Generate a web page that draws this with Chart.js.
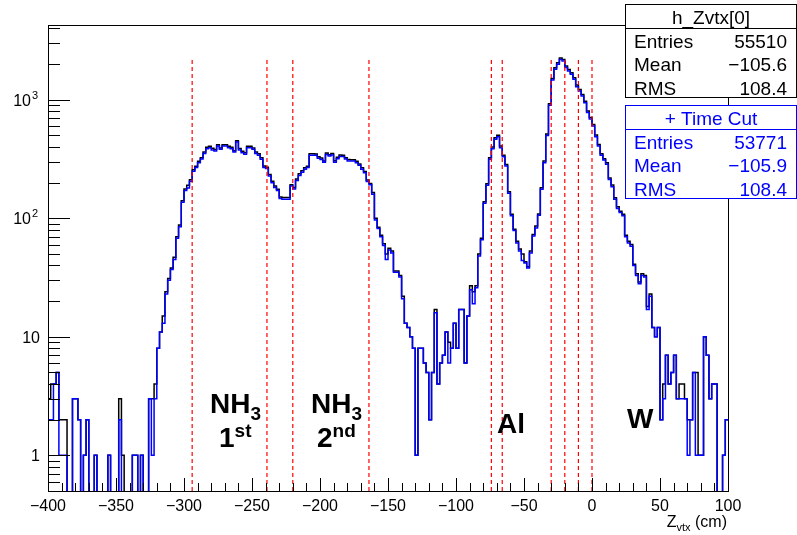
<!DOCTYPE html>
<html>
<head>
<meta charset="utf-8">
<title>h_Zvtx</title>
<script src="https://cdn.jsdelivr.net/npm/chart.js@4.4.1/dist/chart.umd.min.js"></script>
<style>
  html, body { margin: 0; padding: 0; background: #fff; }
  #wrap { width: 797px; height: 535px; }
</style>
</head>
<body>
<div id="wrap"><canvas id="zvtxChart" width="797" height="535"></canvas></div>
<script>
// Histogram binning (cm)
const zMin = -400;
const zMax = 100;
const binWidth = 2;

// Y range of the log axis
const yMin = 0.5;
const yMax = 4280;

// h_Zvtx[0] - all events (black), 250 bins of 2 cm from -400
const allCounts = [
  3, 4, 4, 5, 2, 2, 2, 0, 0, 3,
  3, 2, 0, 1, 2, 0, 0, 1, 0, 0,
  0, 0, 1, 0, 0, 0, 3, 1, 0, 0,
  0, 1, 1, 0, 1, 0, 0, 3, 3, 4,
  8, 11, 15, 24, 31, 38, 47, 70, 88, 141,
  177, 190, 212, 257, 275, 303, 325, 362, 398, 406,
  390, 380, 418, 392, 418, 418, 405, 398, 372, 452,
  388, 368, 357, 406, 406, 392, 363, 350, 324, 276,
  270, 234, 206, 187, 176, 151, 150, 150, 150, 192,
  182, 215, 238, 252, 267, 275, 350, 350, 349, 331,
  323, 305, 356, 344, 352, 306, 327, 342, 341, 325,
  313, 312, 312, 303, 288, 267, 249, 211, 197, 165,
  100, 84, 72, 61, 50, 56, 53, 36, 36, 33,
  22, 13, 12, 10, 8, 1, 8, 8, 6, 5,
  2, 5, 17, 4, 6, 7, 11, 9, 8, 13,
  8, 17, 17, 6, 15, 27, 24, 27, 50, 68,
  138, 196, 325, 399, 478, 503, 407, 341, 284, 168,
  108, 81, 64, 55, 50, 43, 39, 53, 73, 86,
  109, 181, 304, 516, 927, 1513, 1862, 2055, 2256, 2192,
  1926, 1803, 1690, 1534, 1331, 1223, 1109, 975, 803, 711,
  618, 504, 419, 350, 319, 295, 219, 191, 149, 125,
  115, 108, 72, 64, 60, 41, 34, 29, 34, 33,
  18, 23, 12, 10, 12, 2, 4, 7, 4, 5,
  7, 3, 4, 4, 3, 2, 2, 5, 5, 1,
  1, 10, 7, 3, 4, 4, 0, 0, 1, 2
];

// + Time Cut (blue)
const timeCutCounts = [
  2, 2, 4, 5, 1, 1, 1, 0, 0, 3,
  3, 2, 0, 1, 2, 0, 0, 1, 0, 0,
  0, 0, 1, 0, 0, 0, 2, 0, 0, 0,
  0, 1, 1, 0, 1, 0, 0, 3, 1, 3,
  8, 11, 13, 23, 30, 37, 45, 68, 85, 137,
  172, 180, 206, 250, 268, 295, 316, 353, 387, 395,
  378, 370, 407, 382, 407, 407, 395, 387, 363, 441,
  378, 358, 347, 395, 395, 382, 353, 340, 315, 268,
  263, 228, 200, 182, 172, 147, 145, 145, 145, 187,
  177, 209, 230, 245, 260, 268, 340, 340, 340, 322,
  314, 297, 346, 335, 343, 298, 318, 333, 332, 316,
  304, 304, 304, 295, 280, 260, 242, 205, 192, 160,
  97, 82, 70, 59, 45, 54, 51, 35, 35, 32,
  21, 13, 12, 10, 8, 1, 8, 8, 6, 5,
  2, 5, 16, 4, 6, 7, 11, 6, 8, 13,
  8, 17, 17, 6, 15, 25, 19, 26, 48, 66,
  134, 190, 315, 387, 464, 489, 395, 331, 276, 163,
  105, 79, 62, 53, 44, 42, 38, 51, 71, 83,
  106, 176, 295, 501, 900, 1469, 1808, 1995, 2190, 2128,
  1870, 1750, 1641, 1489, 1292, 1187, 1077, 947, 780, 690,
  600, 489, 407, 340, 310, 286, 213, 185, 145, 121,
  112, 105, 70, 62, 58, 40, 33, 28, 33, 32,
  17, 22, 12, 10, 12, 2, 3, 7, 4, 5,
  7, 3, 3, 3, 3, 1, 2, 5, 1, 1,
  1, 10, 7, 3, 4, 4, 0, 0, 1, 2
];

// Target boundaries (red dashed lines)
const cutPositions = [-294, -239, -220, -164, -74, -66, -30, -20, -10, 0];
const cutTop = 2200;

// Axis ticks
const xTickLabels = [-400, -350, -300, -250, -200, -150, -100, -50, 0, 50, 100];
const yDecades = [1, 10, 100, 1000];
const yExponents = ['', '', '2', '3'];

// Stats boxes
const statNames = ['Entries', 'Mean', 'RMS'];
const statsAll = ['55510', '\u2212105.6', '108.4'];
const statsCut = ['53771', '\u2212105.9', '108.4'];

// Empty bins drop to the bottom of the log axis
const emptyBinFloor = 0.1;

const FONT = '"Liberation Sans", Arial, Helvetica, sans-serif';

function histPoints(counts) {
    const pts = counts.map((c, i) => ({ x: zMin + i * binWidth, y: c > 0 ? c : emptyBinFloor }));
    pts.push({ x: zMax, y: pts[pts.length - 1].y });
    return pts;
}

function text(c, str, x, y, font, color, align) {
    c.font = font;
    c.fillStyle = color;
    c.textAlign = align || 'left';
    c.textBaseline = 'alphabetic';
    c.fillText(str, x, y);
}

// Frame, ticks, labels and stats drawn ROOT style
const rootFramePlugin = {
    id: 'rootFrame',
    afterDraw(chart) {
        const c = chart.ctx;
        const area = chart.chartArea;
        const xs = chart.scales.x;
        const ys = chart.scales.y;
        c.save();

        // frame
        c.strokeStyle = '#000';
        c.lineWidth = 1;
        c.strokeRect(area.left + 0.5, area.top + 0.5, area.right - area.left, area.bottom - area.top);

        // y ticks (inside, left)
        c.beginPath();
        yDecades.concat([0.1]).forEach(d => {
            for (let m = 1; m <= 9; m++) {
                const v = m * d;
                if (v < yMin || v > yMax) continue;
                const py = Math.round(ys.getPixelForValue(v)) + 0.5;
                const len = m === 1 ? 22 : 12;
                c.moveTo(area.left, py);
                c.lineTo(area.left + len, py);
            }
        });
        // x ticks (inside, bottom)
        for (let t = zMin; t <= zMax; t += 10) {
            const px = Math.round(xs.getPixelForValue(t)) + 0.5;
            const len = t % 50 === 0 ? 13 : 8;
            c.moveTo(px, area.bottom);
            c.lineTo(px, area.bottom - len);
        }
        c.stroke();

        // x tick labels
        xTickLabels.forEach(t => {
            const label = t < 0 ? '\u2212' + Math.abs(t) : String(t);
            text(c, label, xs.getPixelForValue(t), 511, '16px ' + FONT, '#000', 'center');
        });

        // y tick labels
        yDecades.forEach((d, i) => {
            const py = ys.getPixelForValue(d);
            if (yExponents[i]) {
                text(c, '10', 31, py + 6, '16px ' + FONT, '#000', 'right');
                text(c, yExponents[i], 32, py - 1, '11px ' + FONT, '#000', 'left');
            } else {
                text(c, String(d), 40, py + 6, '16px ' + FONT, '#000', 'right');
            }
        });

        // axis title Z_vtx (cm)
        c.font = '16px ' + FONT;
        const wCm = c.measureText(' (cm)').width;
        c.font = '11px ' + FONT;
        const wVtx = c.measureText('vtx').width;
        const xEnd = area.right - 1;
        text(c, ' (cm)', xEnd - wCm, 527, '16px ' + FONT, '#000');
        text(c, 'vtx', xEnd - wCm - wVtx, 531, '11px ' + FONT, '#000');
        text(c, 'Z', xEnd - wCm - wVtx, 527, '16px ' + FONT, '#000', 'right');

        // target labels
        const bold = 'bold 28px ' + FONT;
        const boldSmall = 'bold 19px ' + FONT;
        const drawNH3 = (x0) => {
            c.font = bold;
            const w = c.measureText('NH').width;
            text(c, 'NH', x0, 413, bold, '#000');
            text(c, '3', x0 + w, 420, boldSmall, '#000');
        };
        const drawOrd = (x0, num, sup) => {
            c.font = bold;
            const w = c.measureText(num).width;
            text(c, num, x0, 447, bold, '#000');
            text(c, sup, x0 + w, 437, boldSmall, '#000');
        };
        drawNH3(210);
        drawOrd(219, '1', 'st');
        drawNH3(311);
        drawOrd(317, '2', 'nd');
        text(c, 'Al', 497, 433, bold, '#000');
        text(c, 'W', 627, 428, bold, '#000');

        // stats boxes
        const drawStats = (top, title, values, color) => {
            const left = 625.5, right = 796.5, h = 93;
            c.fillStyle = '#fff';
            c.fillRect(left, top, right - left, h);
            c.strokeStyle = color;
            c.lineWidth = 1;
            c.strokeRect(left, top, right - left, h);
            c.beginPath();
            c.moveTo(left, top + 24);
            c.lineTo(right, top + 24);
            c.stroke();
            const f = '19px ' + FONT;
            text(c, title, (left + right) / 2, top + 19, f, color, 'center');
            statNames.forEach((name, i) => {
                const by = top + 43 + i * 23.5;
                text(c, name, 634, by, f, color, 'left');
                text(c, values[i], 787, by, f, color, 'right');
            });
        };
        drawStats(4.5, 'h_Zvtx[0]', statsAll, '#000');
        drawStats(105.5, '+ Time Cut', statsCut, '#0000ff');

        c.restore();
    }
};

const cutDatasets = cutPositions.map(z => ({
    data: [{ x: z, y: yMin }, { x: z, y: cutTop }],
    borderColor: '#ff0000',
    borderWidth: 1.2,
    borderDash: [4, 3],
    pointRadius: 0
}));

new Chart(document.getElementById('zvtxChart'), {
    type: 'line',
    data: {
        datasets: [
            ...cutDatasets,
            {
                label: '+ Time Cut',
                data: histPoints(timeCutCounts),
                borderColor: '#0000ff',
                borderWidth: 1.5,
                stepped: true,
                pointRadius: 0,
                fill: false
            },
            {
                label: 'h_Zvtx[0]',
                data: histPoints(allCounts),
                borderColor: '#000000',
                borderWidth: 1.5,
                stepped: true,
                pointRadius: 0,
                fill: false
            }
        ]
    },
    options: {
        responsive: false,
        animation: false,
        events: [],
        layout: { padding: { left: 48, top: 25, right: 69, bottom: 44 } },
        plugins: {
            legend: { display: false },
            tooltip: { enabled: false }
        },
        scales: {
            x: { type: 'linear', min: zMin, max: zMax, display: false },
            y: { type: 'logarithmic', min: yMin, max: yMax, display: false }
        }
    },
    plugins: [rootFramePlugin]
});
</script>
</body>
</html>
